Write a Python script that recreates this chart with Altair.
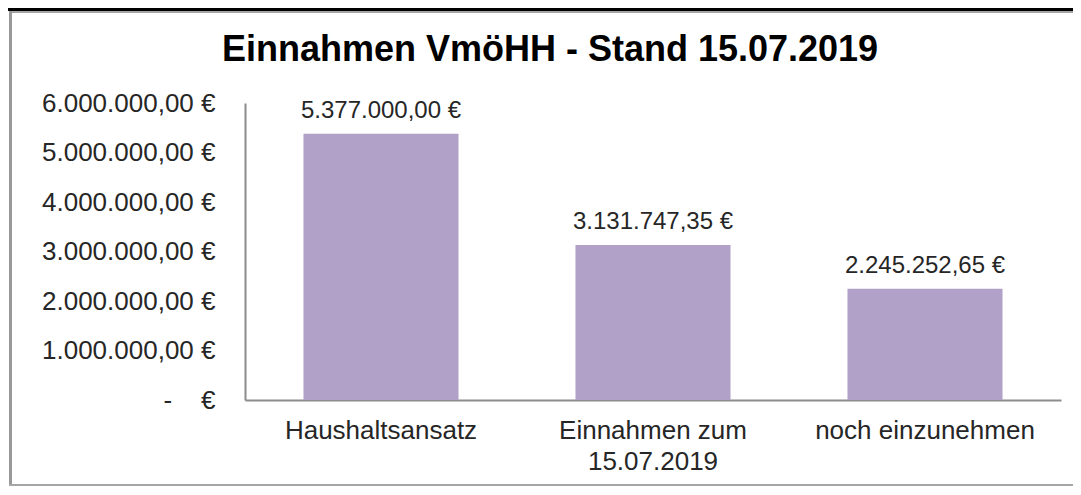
import altair as alt
import pandas as pd

categories = ["Haushaltsansatz", "Einnahmen zum 15.07.2019", "noch einzunehmen"]
values = [5377000.00, 3131747.35, 2245252.65]
y_ticks = [0, 1000000, 2000000, 3000000, 4000000, 5000000, 6000000]
title_text = ["Einnahmen VmöHH - Stand 15.07.2019"]


def de_eur(v):
    s = f"{v:,.2f}".replace(",", "#").replace(".", ",").replace("#", ".")
    return s + " €"


df = pd.DataFrame({
    "cat": categories,
    "val": values,
    "lab": [de_eur(v) for v in values],
})

FONT = "Liberation Sans"
TXT = "#262626"
BAR = "#B1A0C7"

y_label_expr = (
    "datum.value == 0 ? '-\u00a0\u00a0\u00a0\u00a0€' : "
    "replace(replace(replace(format(datum.value, ',.2f'), regexp(',', 'g'), '#'), "
    "regexp('\\\\.', 'g'), ','), regexp('#', 'g'), '.') + ' €'"
)
x_label_expr = (
    "datum.label == 'Einnahmen zum 15.07.2019' ? ['Einnahmen zum', '15.07.2019'] : datum.label"
)

base = alt.Chart(df)

bars = base.mark_bar(color=BAR).encode(
    x=alt.X(
        "cat:N",
        sort=None,
        title=None,
        scale=alt.Scale(paddingInner=0.43, paddingOuter=0.215),
        axis=alt.Axis(
            labelAngle=0,
            labelExpr=x_label_expr,
            labelFont=FONT,
            labelFontSize=26,
            labelColor=TXT,
            labelPadding=17,
            labelLineHeight=31,
            labelLimit=0,
            ticks=False,
            tickSize=0,
            domainColor="#8c8c8c",
            domainWidth=2,
            labelBaseline="top",
        ),
    ),
    y=alt.Y(
        "val:Q",
        title=None,
        scale=alt.Scale(domain=[0, 6000000], nice=False),
        axis=alt.Axis(
            values=y_ticks,
            labelExpr=y_label_expr,
            labelFont=FONT,
            labelFontSize=26,
            labelColor=TXT,
            labelPadding=30,
            labelLimit=0,
            ticks=False,
            tickSize=0,
            grid=False,
            domainColor="#8c8c8c",
            domainWidth=2,
        ),
    ),
)

labels = base.mark_text(
    dy=-16, baseline="alphabetic", fontSize=24, font=FONT, color=TXT
).encode(
    x=alt.X("cat:N", sort=None),
    y=alt.Y("val:Q"),
    text="lab:N",
)

title_df = pd.DataFrame({"t": title_text})
title = alt.Chart(title_df).mark_text(
    font=FONT, fontSize=36, fontWeight="bold", color="#000000",
    align="center", baseline="alphabetic",
).encode(x=alt.value(305), y=alt.value(-42), text="t:N")

deco = alt.Chart(pd.DataFrame({"d": [0]}))
top_black = deco.mark_rule(color="#000000", strokeWidth=3).encode(
    x=alt.value(-237), x2=alt.value(828), y=alt.value(-93.5)
)
top_gray = deco.mark_rule(color="#a6a6a6", strokeWidth=2).encode(
    x=alt.value(-236), x2=alt.value(828), y=alt.value(-91)
)
left_gray = deco.mark_rule(color="#999999", strokeWidth=3).encode(
    x=alt.value(-234.5), y=alt.value(-92), y2=alt.value(383)
)
bottom_gray = deco.mark_rule(color="#a6a6a6", strokeWidth=2).encode(
    x=alt.value(-236), x2=alt.value(828), y=alt.value(382)
)

chart = alt.layer(
    bars, labels, title, top_black, top_gray, left_gray, bottom_gray
).properties(
    width=816,
    height=297,
    autosize=alt.AutoSizeParams(type="none"),
    padding={"left": 237, "top": 95, "right": 12, "bottom": 87},
).configure_view(stroke=None)

chart.save("out.html", embed_options={"renderer": "svg", "actions": False})
